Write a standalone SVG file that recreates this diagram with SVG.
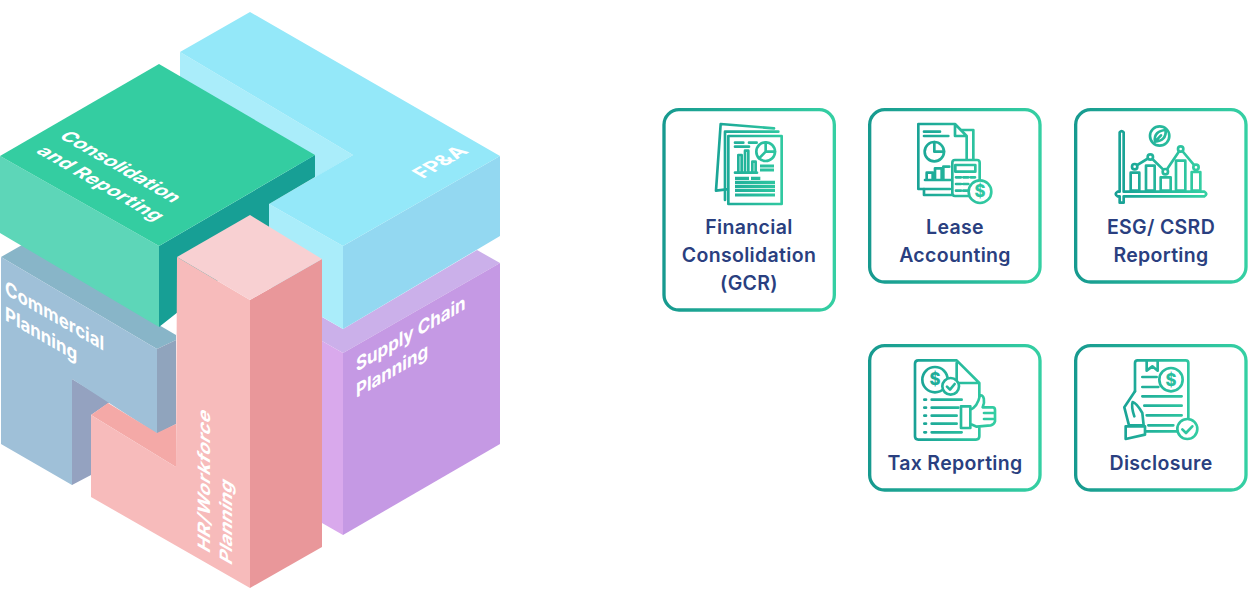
<svg xmlns="http://www.w3.org/2000/svg" width="1248" height="600" viewBox="0 0 1248 600">
<style>
text{font-family:"Inter","Noto Sans",sans-serif}
.cap{font-size:58.5px;fill:#2a3f80;text-anchor:middle;font-weight:600;letter-spacing:1px}
.iso{font-size:19.5px;fill:#fff;font-weight:700}
.box{fill:#fff;stroke-width:10;stroke-linejoin:round}
.ic{fill:none;stroke-width:8;stroke-linecap:round;stroke-linejoin:round}
.w{fill:#fff}
.dl{font-size:50px;text-anchor:middle;stroke:none;font-weight:800}
.st{stroke-width:9.5;stroke-linecap:butt}
</style>
<defs>
<linearGradient id="cb" gradientUnits="userSpaceOnUse" x1="20" y1="0" x2="545" y2="0"><stop offset="0" stop-color="#16998f"/><stop offset="1" stop-color="#35d0a3"/></linearGradient>
<linearGradient id="ig" gradientUnits="userSpaceOnUse" x1="150" y1="0" x2="420" y2="0"><stop offset="0" stop-color="#179f95"/><stop offset="1" stop-color="#35d0a3"/></linearGradient>
</defs>
<g id="supply-chain">
<polygon fill="#cbb0ea" points="322,317 343,329 477,250 500,263 343,353 322,341"/>
<polygon fill="#d9a9ec" points="322,341 343,353 343,535 322,523"/>
<polygon fill="#c599e4" points="343,353 500,263 500,444 343,535"/>
<text class="iso" transform="matrix(.866 -.5 0 1 356 372)">Supply Chain</text>
<text class="iso" transform="matrix(.866 -.5 0 1 356 398)">Planning</text>
</g>
<g id="fpa">
<polygon fill="#aaedfa" points="180,52 353,155 316,177 180,100"/>
<polygon fill="#aaedfa" points="269,204 343,246 343,329 269,286"/>
<polygon fill="#93d8f1" points="343,246 500,156 500,236 343,329"/>
<polygon fill="#94e8f9" points="180,52 250,12 500,156 343,246 269,204 353,155"/>
<text class="iso" style="font-size:20.5px" transform="matrix(.866 -.5 .866 .5 423 179)">FP&amp;A</text>
</g>
<g id="commercial">
<polygon fill="#88b5c8" points="1,257 22,245 176,335 176,340 157,349"/>
<polygon fill="#90a4bd" points="157,349 176,340 176,424 157,434"/>
<polygon fill="#94a2c0" points="72,379 110,402 91,415 91,475 72,485"/>
<polygon fill="#9fc0d8" points="1,257 157,349 157,434 72,379 72,485 1,444"/>
<text class="iso" transform="matrix(.866 .5 0 1 5 294)">Commercial</text>
<text class="iso" transform="matrix(.866 .5 0 1 5 320)">Planning</text>
</g>
<g id="consolidation">
<polygon fill="#179f95" points="159,246 315,155 315,177 269,204 269,240 159,327"/>
<polygon fill="#5dd6b8" points="0,156 159,246 159,327 0,233"/>
<polygon fill="#34cda1" points="159,64 315,155 159,246 0,156"/>
<text class="iso" transform="matrix(.866 .5 -.866 .5 58 137)">Consolidation</text>
<text class="iso" style="letter-spacing:.4px" transform="matrix(.866 .5 -.866 .5 35 152)">and Reporting</text>
</g>
<g id="hr-workforce">
<polygon fill="#f4a9a7" points="91,415 108,403 157,433 176,424 176,467"/>
<polygon fill="#f7bbbb" points="177,257 250,300 250,588 91,497 91,415 176,467"/>
<polygon fill="#e9979a" points="250,300 322,259 322,547 250,588"/>
<polygon fill="#f8d0d2" points="250,215 322,259 250,300 177,257"/>
<text class="iso" style="letter-spacing:.5px" transform="matrix(0 -1 .866 .5 210 554)">HR/Workforce</text>
<text class="iso" transform="matrix(0 -1 .866 .5 232 566)">Planning</text>
</g>
<g id="card-financial" transform="translate(655 100) scale(.33333)">
<rect class="box" stroke="url(#cb)" x="27" y="29" width="511" height="601" rx="45"/>
<g class="ic" stroke="url(#ig)">
<path d="M197,72 L357,85 M197,72 L183,272 L215,268"/>
<path d="M210,95 H370 M210,95 V300"/>
<rect class="w" x="220" y="108" width="160" height="204"/>
<path d="M240,128 H265 M240,140 H282 M282,128 H305"/>
<path d="M250,215 V165 H260 V215 M270,215 V152 H280 V215 M292,215 V185 H302 V215 M240,218 H306"/>
<circle cx="332" cy="155" r="28"/>
<path d="M332,127 V155 H360 M332,155 L312,175"/>
<g class="st"><path d="M315,198 H357 M315,210 H357 M240,235 H282 M288,235 H316 M240,247 H360 M240,259 H360 M240,271 H360 M240,285 H360"/></g>
</g>
<text class="cap" x="282" y="402">Financial</text>
<text class="cap" x="282" y="486">Consolidation</text>
<text class="cap" x="282" y="570">(GCR)</text>
</g>
<g id="card-lease" transform="translate(860 100) scale(.33333)">
<rect class="box" stroke="url(#cb)" x="29" y="29" width="511" height="517" rx="45"/>
<g class="ic" stroke="url(#ig)">
<path d="M305,90 H340 V178 M192,267 V285 H275"/>
<path d="M270,267 H175 V72 H285 L320,108 V180 M285,72 V108 H320"/>
<path d="M192,95 H240 M192,108 H265"/>
<circle cx="223" cy="155" r="29"/>
<path d="M223,126 V155 H252"/>
<path d="M200,238 V218 H218 V238 M225,238 V205 H245 V238 M250,238 V200 H268 M195,240 H272"/>
<rect x="277" y="180" width="82" height="108" rx="8" class="w"/>
<rect x="286" y="195" width="60" height="20"/>
<path d="M288,232 H303 M310,232 H325 M332,232 H345 M288,252 H303 M310,252 H325 M288,272 H303 M310,272 H325"/>
<circle cx="360" cy="275" r="34" class="w"/>
</g>
<text class="dl" x="360" y="292" fill="url(#ig)">$</text>
<text class="cap" x="285" y="402">Lease</text>
<text class="cap" x="285" y="486">Accounting</text>
</g>
<g id="card-esg" transform="translate(1065 100) scale(.33333)">
<rect class="box" stroke="url(#cb)" x="32" y="29" width="511" height="517" rx="45"/>
<g class="ic" stroke="url(#ig)">
<path d="M164,97 Q170,90 176,97 V275 H418 Q430,282 418,289 H176 V308 H164 V289 H158 Q146,282 158,275 H164 Z"/>
<rect x="197" y="218" width="26" height="54"/>
<rect x="243" y="197" width="26" height="75"/>
<rect x="287" y="232" width="30" height="40"/>
<rect x="333" y="182" width="28" height="90"/>
<rect x="380" y="216" width="26" height="56"/>
<path d="M209,200 L256,171 L301,215 L347,147 L393,202"/>
<circle cx="209" cy="200" r="8" class="w"/>
<circle cx="256" cy="171" r="8" class="w"/>
<circle cx="301" cy="215" r="8" class="w"/>
<circle cx="347" cy="147" r="8" class="w"/>
<circle cx="393" cy="202" r="8" class="w"/>
<circle cx="284" cy="108" r="29"/>
<path d="M270,125 C266,102 280,92 302,90 C304,112 292,124 270,125 Z M270,125 L288,106"/>
</g>
<text class="cap" x="288" y="402">ESG/ CSRD</text>
<text class="cap" x="288" y="486">Reporting</text>
</g>
<g id="card-tax" transform="translate(860 338) scale(.33333)">
<rect class="box" stroke="url(#cb)" x="29" y="23" width="511" height="433" rx="45"/>
<g class="ic" stroke="url(#ig)">
<path d="M358,180 V135 L290,67 H175 Q165,67 165,77 V295 Q165,305 175,305 H348 Q358,305 358,295 V270 M290,75 V135 H355"/>
<circle cx="225" cy="125" r="38"/>
<circle cx="272" cy="145" r="25" class="w"/>
<path d="M261,146 L270,155 L284,138"/>
<path d="M193,185 H198 M215,185 H305 M193,209 H198 M215,209 H295 M193,233 H198 M215,233 H290 M193,257 H198 M215,257 H290 M193,283 H198 M215,283 H305"/>
<rect x="303" y="205" width="28" height="65" class="w"/>
<path class="w" d="M331,215 C345,210 355,195 360,172 C372,170 376,190 368,208 H398 Q405,208 405,216 V250 Q402,260 392,262 L350,266 Q340,262 331,258 Z"/>
<path d="M372,225 H403 M372,243 H400"/>
</g>
<text class="dl" x="225" y="142" fill="url(#ig)">$</text>
<text class="cap" x="285" y="396">Tax Reporting</text>
</g>
<g id="card-disclosure" transform="translate(1065 338) scale(.33333)">
<rect class="box" stroke="url(#cb)" x="32" y="23" width="511" height="433" rx="45"/>
<g class="ic" stroke="url(#ig)">
<path d="M210,160 V75 Q210,67 218,67 H362 Q370,67 370,75 V245 M243,280 H340"/>
<path d="M245,68 V98 L262,85 L278,98 V68"/>
<path d="M232,117 H275 M232,147 H280 M232,175 H350 M238,203 H350 M245,232 H350 M250,262 H325"/>
<circle cx="318" cy="125" r="35"/>
<path class="w" d="M210,160 L178,208 L192,262 H236 L232,225 Q215,195 203,192 Q198,205 208,235"/>
<path class="w" d="M182,265 H240 V290 L182,303 Z"/>
<circle cx="367" cy="273" r="30" class="w"/>
<path d="M352,274 L363,285 L382,265"/>
</g>
<text class="dl" x="318" y="143" fill="url(#ig)">$</text>
<text class="cap" x="288" y="396">Disclosure</text>
</g>
</svg>
